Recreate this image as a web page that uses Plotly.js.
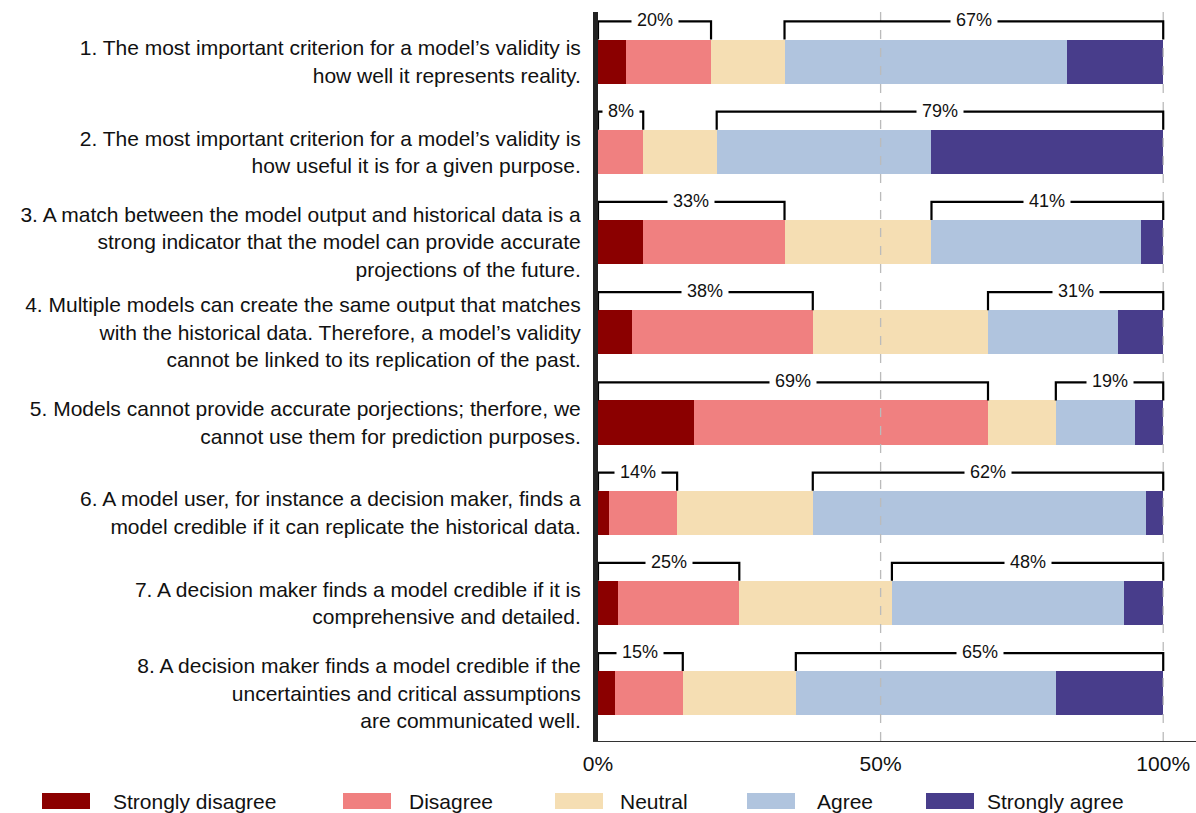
<!DOCTYPE html>
<html>
<head>
<meta charset="utf-8">
<script src="https://cdn.plot.ly/plotly-3.0.1.min.js"></script>
<style>html,body{margin:0;padding:0;background:#fff;}#chart{width:1196px;height:813px;}</style>
</head>
<body>
<div id="chart"></div>
<script>
const statements = [
  "1. The most important criterion for a model’s validity is<br>how well it represents reality.",
  "2. The most important criterion for a model’s validity is<br>how useful it is for a given purpose.",
  "3. A match between the model output and historical data is a<br>strong indicator that the model can provide accurate<br>projections of the future.",
  "4. Multiple models can create the same output that matches<br>with the historical data. Therefore, a model’s validity<br>cannot be linked to its replication of the past.",
  "5. Models cannot provide accurate porjections; therfore, we<br>cannot use them for prediction purposes.",
  "6. A model user, for instance a decision maker, finds a<br>model credible if it can replicate the historical data.",
  "7. A decision maker finds a model credible if it is<br>comprehensive and detailed.",
  "8. A decision maker finds a model credible if the<br>uncertainties and critical assumptions<br>are communicated well."
];
const stronglyDisagree = [5, 0, 8, 6, 17, 2, 3.5, 3];
const disagree = [15, 8, 25, 32, 52, 12, 21.5, 12];
const neutral = [13, 13, 26, 31, 12, 24, 27, 20];
const agree = [50, 38, 37, 23, 14, 59, 41, 46];
const stronglyAgree = [17, 41, 4, 8, 5, 3, 7, 19];
const seriesNames = ["Strongly disagree", "Disagree", "Neutral", "Agree", "Strongly agree"];
const seriesColors = ["#8B0000", "#F08080", "#F5DEB3", "#B0C4DE", "#483D8B"];
const xTickVals = [0, 50, 100];
const xTickText = ["0%", "50%", "100%"];

const FONT = "Liberation Sans, Arial, Helvetica, sans-serif";
const series = [stronglyDisagree, disagree, neutral, agree, stronglyAgree];
const yPos = statements.map((_, i) => i);
const BAR_W = 0.49;

const traces = series.map((vals, k) => ({
  type: 'bar', orientation: 'h', name: seriesNames[k],
  x: vals, y: yPos, width: BAR_W,
  marker: {color: seriesColors[k], line: {width: 0}},
  showlegend: false, hoverinfo: 'x+name'
}));

const shapes = [];
const annotations = [];
// dashed reference lines above bars
[50, 100].forEach(v => shapes.push({type: 'line', xref: 'x', yref: 'paper', x0: v, x1: v, y0: 0, y1: 1,
  line: {color: '#bbbbbb', width: 1.3, dash: 'dash'}, layer: 'above'}));

// brackets
yPos.forEach(i => {
  const dis = stronglyDisagree[i] + disagree[i];
  const agr = agree[i] + stronglyAgree[i];
  const total = dis + neutral[i] + agr;
  const yTop = i - BAR_W / 2;
  const yBr = i - BAR_W / 2 - 0.2;
  [[0, dis, dis], [total - agr, total, agr]].forEach(([a, b, v]) => {
    shapes.push({type: 'path', xref: 'x', yref: 'y',
      path: `M ${a},${yTop} L ${a},${yBr} L ${b},${yBr} L ${b},${yTop}`,
      line: {color: '#000', width: 2.2}, layer: 'above'});
    annotations.push({xref: 'x', yref: 'y', x: (a + b) / 2, y: yBr, text: Math.round(v) + '%',
      showarrow: false, bgcolor: '#fff', borderpad: 5, xanchor: 'center', yanchor: 'middle', yshift: 1,
      font: {family: FONT, size: 18, color: '#111'}});
  });
});

// custom legend
const legRectX = [42, 343, 555, 747, 926];
const legTextX = [111, 407, 618, 815, 985];
legRectX.forEach((px, k) => {
  shapes.push({type: 'rect', xref: 'paper', yref: 'paper',
    x0: (px - 598) / 598, x1: (px + 48 - 598) / 598,
    y0: (741 - 809) / 729, y1: (741 - 793) / 729,
    fillcolor: seriesColors[k], line: {width: 0}});
  annotations.push({xref: 'paper', yref: 'paper', x: (legTextX[k] - 598) / 598, y: (741 - 801) / 729,
    text: seriesNames[k], showarrow: false, xanchor: 'left', yanchor: 'middle',
    font: {family: FONT, size: 21, color: '#111'}});
});

const layout = {
  width: 1196, height: 813,
  margin: {l: 598, r: 0, t: 12, b: 72},
  paper_bgcolor: '#fff', plot_bgcolor: '#fff',
  barmode: 'stack', bargap: 0,
  font: {family: FONT, size: 20, color: '#111'},
  xaxis: {range: [0, 105.8], tickvals: xTickVals, ticktext: xTickText, showgrid: false, zeroline: false,
    showline: true, linecolor: '#333', linewidth: 1, ticks: 'outside', ticklen: 4, tickcolor: 'rgba(0,0,0,0)',
    tickfont: {size: 21, color: '#111'}, fixedrange: true},
  yaxis: {range: [7.53, -0.55], tickvals: yPos, ticktext: statements, showgrid: false, zeroline: false,
    showline: true, linecolor: '#222', linewidth: 5, ticks: 'outside', ticklen: 8, tickcolor: 'rgba(0,0,0,0)',
    tickfont: {size: 21, color: '#111'}, fixedrange: true},
  shapes: shapes, annotations: annotations, showlegend: false
};
Plotly.newPlot('chart', traces, layout, {displayModeBar: false, staticPlot: true});
</script>
</body>
</html>
